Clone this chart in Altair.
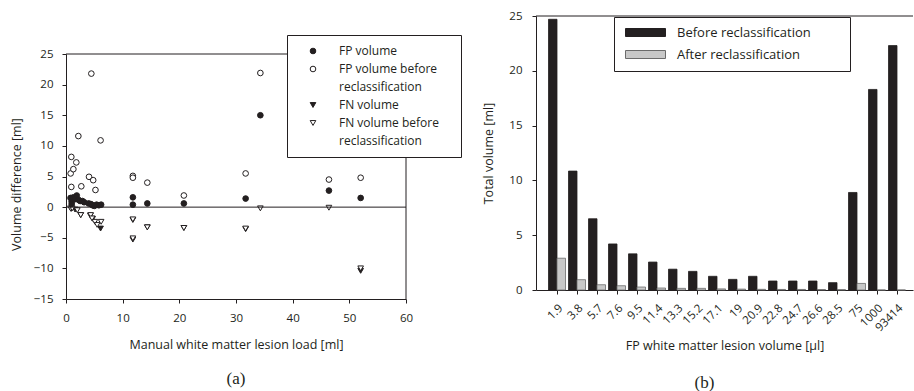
import altair as alt
import pandas as pd

# ---------------- data: panel (a) ----------------
series_names = [
    "FP volume",
    "FP volume before reclassification",
    "FN volume",
    "FN volume before reclassification",
]
fp_x = [0.8, 1.0, 1.0, 1.3, 1.6, 1.9, 2.2, 2.5, 2.9, 3.2, 4.0, 4.4, 4.7, 5.0, 5.4, 5.8, 6.2,
        11.8, 11.8, 14.35, 20.8, 31.7, 34.3, 46.4, 52.0]
fp_y = [1.5, 0.9, 0.5, 1.6, 1.3, 1.9, 1.2, 1.0, 1.0, 0.8, 0.6, 0.5, 0.3, 0.2, 0.4, 0.3, 0.4,
        1.6, 0.4, 0.6, 0.6, 1.4, 15.0, 2.7, 1.5]
fpb_x = [0.82, 0.94, 0.94, 1.3, 1.82, 2.18, 2.7, 4.06, 4.47, 4.8, 5.2, 6.1,
         11.8, 11.8, 14.35, 20.8, 31.7, 34.3, 46.4, 52.0]
fpb_y = [5.5, 8.2, 3.3, 6.2, 7.3, 11.6, 3.4, 4.95, 21.8, 4.4, 2.8, 10.9,
         5.1, 4.8, 4.0, 1.9, 5.5, 21.9, 4.5, 4.8]
fn_x = [0.9, 1.6, 2.6, 4.3, 4.7, 6.1, 11.8, 11.8, 14.35, 20.8, 31.7, 52.0]
fn_y = [-0.3, -0.4, -1.3, -1.4, -1.9, -3.5, -2.1, -5.3, -3.3, -3.4, -3.6, -10.4]
fnb_x = [0.8, 1.1, 2.0, 2.6, 4.35, 4.6, 5.1, 5.5, 6.2, 11.8, 11.8, 14.35, 20.8, 31.7, 34.3, 46.4, 52.0]
fnb_y = [-0.2, -0.2, -0.5, -1.3, -1.3, -1.85, -2.4, -2.9, -2.4, -2.0, -5.1, -3.3, -3.4, -3.5, -0.2, -0.1, -10.0]

# ---------------- data: panel (b) ----------------
categories = ["1.9", "3.8", "5.7", "7.6", "9.5", "11.4", "13.3", "15.2", "17.1", "19",
              "20.9", "22.8", "24.7", "26.6", "28.5", "75", "1000", "93414"]
before_vals = [24.7, 10.85, 6.5, 4.2, 3.3, 2.55, 1.9, 1.7, 1.25, 0.97,
               1.25, 0.82, 0.82, 0.82, 0.67, 8.9, 18.3, 22.3]
after_vals = [2.9, 0.94, 0.48, 0.39, 0.27, 0.18, 0.15, 0.15, 0.1, 0.08,
              0.06, 0.05, 0.05, 0.04, 0.03, 0.6, 0.0, 0.0]
bar_series = ["Before reclassification", "After reclassification"]

INK = "#231f20"
FONT = "Open Sans"

# ---------------- panel (a) ----------------
rows = []
for name, xs, ys in [(series_names[2], fn_x, fn_y), (series_names[3], fnb_x, fnb_y),
                     (series_names[1], fpb_x, fpb_y), (series_names[0], fp_x, fp_y)]:
    rows += [{"load": x, "diff": y, "series": name} for x, y in zip(xs, ys)]
left_df = pd.DataFrame(rows)

# legend domain: the two-line labels get a symbol-less continuation row
leg_domain = [series_names[0], series_names[1], "cont1", series_names[2], series_names[3], "cont2"]
CONT_SHAPE = "M0,0L0,0"   # invisible symbol for continuation rows

W_L, H_L = 340, 283
x_scale_L = alt.Scale(domain=[0, 60], nice=False)
y_scale_L = alt.Scale(domain=[-15, 25], range=[H_L, 38], nice=False)
x_axis_L = alt.Axis(values=list(range(0, 61, 10)), title="Manual white matter lesion load [ml]",
                    tickSize=4, labelPadding=9, titlePadding=15, grid=False, labelOverlap=False,
                    labelFlush=False)
y_axis_L = alt.Axis(values=list(range(-15, 26, 5)), title="Volume difference [ml]",
                    tickSize=4, labelPadding=9, titlePadding=10, grid=False, labelOverlap=False,
                    labelFlush=False, tickCount=9, titleY=168)

legL = alt.Legend(
    title="\u2014", titleOrient="right", titleColor="transparent", titleFontSize=8, titlePadding=4,
    orient="none", legendX=221, legendY=19,
    strokeColor=INK, fillColor="white", padding=10,
    labelFontSize=12, labelOffset=20, symbolOffset=10, symbolSize=32, symbolStrokeWidth=1,
    rowPadding=6,
    labelExpr="indexof(datum.label, 'cont') == 0 ? 'reclassification' : replace(datum.label, ' reclassification', '')",
)
points = alt.Chart(left_df).mark_point(filled=True, size=32, strokeWidth=1, opacity=1).encode(
    x=alt.X("load:Q", scale=x_scale_L, axis=x_axis_L),
    y=alt.Y("diff:Q", scale=y_scale_L, axis=y_axis_L),
    fill=alt.Fill("series:N", scale=alt.Scale(domain=leg_domain,
                  range=[INK, "white", "transparent", INK, "white", "transparent"]), legend=legL),
    stroke=alt.Stroke("series:N", scale=alt.Scale(domain=leg_domain,
                      range=[INK, INK, "transparent", INK, INK, "transparent"]), legend=legL),
    shape=alt.Shape("series:N", scale=alt.Scale(domain=leg_domain,
                    range=["circle", "circle", CONT_SHAPE, "triangle-down", "triangle-down", CONT_SHAPE]),
                    legend=legL),
)
one = pd.DataFrame({"k": [0]})
zero_line = alt.Chart(one).mark_rule(color=INK, strokeWidth=1).encode(
    y=alt.YDatum(0, scale=y_scale_L, axis=y_axis_L))
top_line = alt.Chart(one).mark_rule(color=INK, strokeWidth=1).encode(
    y=alt.YDatum(25, scale=y_scale_L, axis=y_axis_L))
right_line = alt.Chart(one).mark_rule(color=INK, strokeWidth=1).encode(
    x=alt.XDatum(60, scale=x_scale_L, axis=x_axis_L),
    y=alt.YDatum(-15, scale=y_scale_L, axis=y_axis_L), y2=alt.datum(25))

left = alt.layer(points, zero_line, top_line, right_line).properties(
    width=W_L, height=H_L,
    title=alt.TitleParams("(a)", orient="bottom", font="Liberation Serif", fontSize=17,
                          fontWeight="normal", color=INK, offset=20),
)

# ---------------- panel (b) ----------------
brows = []
for c, b, a in zip(categories, before_vals, after_vals):
    brows.append({"cat": c, "series": bar_series[0], "value": b})
    brows.append({"cat": c, "series": bar_series[1], "value": a})
bar_df = pd.DataFrame(brows)

W_R, H_R = 377, 274
y_scale_R = alt.Scale(domain=[0, 25], nice=False)
y_axis_R = alt.Axis(values=list(range(0, 26, 5)), title="Total volume [ml]",
                    tickSize=4, labelPadding=10, titlePadding=13, grid=False, labelFlush=False)
legR = alt.Legend(
    title=None,
    orient="none", legendX=78, legendY=1,
    strokeColor=INK, fillColor="white", padding=9,
    labelFontSize=13, labelOffset=41, symbolType="M-1,-1H9V1H-1Z", symbolSize=64,
    symbolStrokeWidth=1, rowPadding=8, labelLimit=260,
    labelExpr="datum.label + '\u2800\u2800\u2800'",
)
bars = alt.Chart(bar_df).mark_bar(strokeWidth=0.8).encode(
    x=alt.X("cat:N", sort=categories,
            scale=alt.Scale(paddingInner=0.15, paddingOuter=0.5, align=0.625),
            axis=alt.Axis(labelAngle=315, title="FP white matter lesion volume [µl]",
                          tickSize=4, labelPadding=8, titlePadding=6, grid=False)),
    xOffset=alt.XOffset("series:N", sort=bar_series, scale=alt.Scale(paddingInner=0, paddingOuter=0)),
    y=alt.Y("value:Q", scale=y_scale_R, axis=y_axis_R),
    fill=alt.Fill("series:N", scale=alt.Scale(domain=bar_series, range=[INK, "#c8c8c8"]), legend=legR),
    stroke=alt.Stroke("series:N", scale=alt.Scale(domain=bar_series, range=[INK, "#6b6b6b"]), legend=legR),
)
top_line_r = alt.Chart(one).mark_rule(color=INK, strokeWidth=1).encode(
    y=alt.YDatum(25, scale=y_scale_R, axis=y_axis_R))
right = alt.layer(bars, top_line_r).properties(
    width=W_R, height=H_R,
    title=alt.TitleParams("(b)", orient="bottom", font="Liberation Serif", fontSize=17,
                          fontWeight="normal", color=INK, offset=23, dx=-20),
)

chart = alt.hconcat(left, right, spacing=130, bounds="flush").resolve_scale(
    fill="independent", shape="independent", stroke="independent"
).properties(
    padding={"left": 10, "top": 10, "right": 0, "bottom": 0},
).configure_view(stroke=None).configure_axis(
    labelFont=FONT, titleFont=FONT, labelFontSize=11.5, titleFontSize=12.5,
    labelColor=INK, titleColor=INK, domainColor=INK, tickColor=INK,
    titleFontWeight="normal",
).configure_legend(labelFont=FONT, labelColor=INK)

chart.save("out.html", embed_options={"renderer": "svg", "actions": False})
